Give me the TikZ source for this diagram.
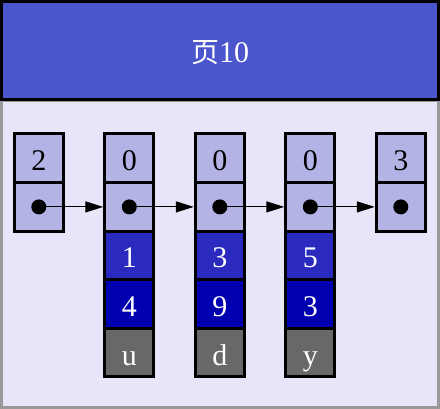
\documentclass[tikz,border=0pt]{standalone}
\usepackage{fontspec}
\setmainfont{Liberation Serif}
\newfontfamily\cjk{Noto Sans CJK SC}
\usetikzlibrary{arrows.meta}
\definecolor{hdr}{RGB}{75,85,204}
\definecolor{bodyc}{RGB}{230,230,248}
\definecolor{lite}{RGB}{179,179,230}
\definecolor{bluea}{RGB}{42,42,190}
\definecolor{blueb}{RGB}{0,0,176}
\definecolor{grayc}{RGB}{104,104,104}
\definecolor{frame}{RGB}{153,153,153}
\tikzset{
  cell/.style={draw=black,line width=3pt,minimum width=49pt,minimum height=48.6pt,inner sep=0pt,
    font=\fontsize{30}{34}\selectfont,text height=25pt,text depth=0pt},
  litecell/.style={cell,fill=lite,text=black},
  acell/.style={cell,fill=bluea,text=white},
  bcell/.style={cell,fill=blueb,text=white},
  gcell/.style={cell,fill=grayc,text=white},
  dot/.style={circle,fill=black,minimum size=15pt,inner sep=0pt},
  arr/.style={line width=1.2pt,-{Triangle[length=18pt,width=11pt]}}
}
\begin{document}
\begin{tikzpicture}[x=1pt,y=-1pt]
\useasboundingbox (0,0) rectangle (440,409);
% body and header
\draw[frame,fill=bodyc,line width=3pt] (1.5,101) rectangle (438.5,407.5);
\node[draw=black,fill=hdr,line width=3pt,minimum width=437pt,minimum height=98pt,inner sep=0pt,
  text=white,font=\fontsize{30}{34}\selectfont,text height=24pt,text depth=0pt] (hdr) at (220,50.5) {{\cjk\fontsize{28}{34}\selectfont 页}10};
% columns
\def\ra{158.3}\def\rb{206.9}\def\rc{255.5}\def\rd{304.1}\def\re{352.7}
% col 1
\node[litecell] (a1) at (38.8,\ra) {2};
\node[litecell] (a2) at (38.8,\rb) {};
% col 2
\node[litecell] (b1) at (129.3,\ra) {0};
\node[litecell] (b2) at (129.3,\rb) {};
\node[acell] (b3) at (129.3,\rc) {1};
\node[bcell] (b4) at (129.3,\rd) {4};
\node[gcell] (b5) at (129.3,\re) {u};
% col 3
\node[litecell] (c1) at (219.8,\ra) {0};
\node[litecell] (c2) at (219.8,\rb) {};
\node[acell] (c3) at (219.8,\rc) {3};
\node[bcell] (c4) at (219.8,\rd) {9};
\node[gcell] (c5) at (219.8,\re) {d};
% col 4
\node[litecell] (d1) at (310.3,\ra) {0};
\node[litecell] (d2) at (310.3,\rb) {};
\node[acell] (d3) at (310.3,\rc) {5};
\node[bcell] (d4) at (310.3,\rd) {3};
\node[gcell] (d5) at (310.3,\re) {y};
% col 5
\node[litecell] (e1) at (400.8,\ra) {3};
\node[litecell] (e2) at (400.8,\rb) {};
% dots
\node[dot] (pa) at (a2.center) {};
\node[dot] (pb) at (b2.center) {};
\node[dot] (pc) at (c2.center) {};
\node[dot] (pd) at (d2.center) {};
\node[dot] (pe) at (e2.center) {};
% arrows
\draw[arr] (pa.center) -- (b2.west);
\draw[arr] (pb.center) -- (c2.west);
\draw[arr] (pc.center) -- (d2.west);
\draw[arr] (pd.center) -- (e2.west);
\end{tikzpicture}
\end{document}
